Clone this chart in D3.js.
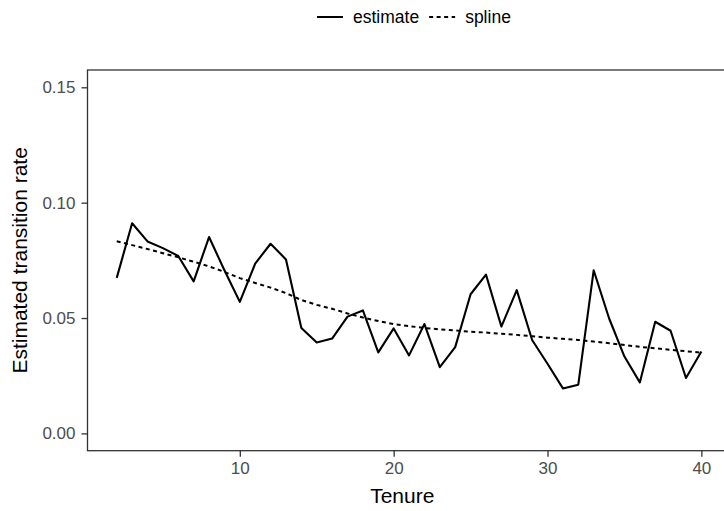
<!DOCTYPE html>
<html>
<head>
<meta charset="utf-8">
<script src="https://cdn.jsdelivr.net/npm/d3@7"></script>
<style>
  html, body { margin: 0; padding: 0; background: #fff; }
  svg { display: block; }
</style>
</head>
<body>
<div id="chart"></div>
<script>
// Tenure values and the two series
const tenure = d3.range(2, 41);
const estimate = [0.0674, 0.0911, 0.0832, 0.0803, 0.0769, 0.0659, 0.0851, 0.0707, 0.0570, 0.0736,
    0.0822, 0.0754, 0.0457, 0.0394, 0.0411, 0.0506, 0.0533, 0.0351, 0.0455, 0.0338,
    0.0474, 0.0287, 0.0374, 0.0603, 0.0688, 0.0463, 0.0621, 0.0405, 0.0302, 0.0195,
    0.0211, 0.0707, 0.0499, 0.0333, 0.0221, 0.0484, 0.0445, 0.0240, 0.0355];
const spline = [0.0833, 0.0816, 0.0799, 0.0781, 0.0763, 0.0744, 0.0724, 0.0700, 0.0673, 0.0652,
    0.0632, 0.0608, 0.0578, 0.0557, 0.0540, 0.0520, 0.0502, 0.0487, 0.0474, 0.0465,
    0.0457, 0.0451, 0.0446, 0.0441, 0.0437, 0.0432, 0.0427, 0.0421, 0.0415, 0.0410,
    0.0405, 0.0398, 0.0391, 0.0383, 0.0375, 0.0369, 0.0362, 0.0356, 0.0350];
const xTicks = [10, 20, 30, 40];
const yTicks = [0, 0.05, 0.10, 0.15];
const legendItems = [
    { label: "estimate", dash: null },
    { label: "spline", dash: "4,3.5" }
];

const width = 724, height = 511;
const font = "'Liberation Sans', Arial, Helvetica, sans-serif";
const panel = { left: 87.5, top: 70, right: 730.6, bottom: 450.7 };

const svg = d3.select("#chart").append("svg")
    .attr("width", width)
    .attr("height", height);

const x = d3.scaleLinear().domain([0.1, 41.9]).range([panel.left, panel.right]);
const y = d3.scaleLinear().domain([-0.0075, 0.1575]).range([panel.bottom, panel.top]);

svg.append("clipPath").attr("id", "clip")
    .append("rect")
    .attr("x", panel.left).attr("y", panel.top)
    .attr("width", panel.right - panel.left).attr("height", panel.bottom - panel.top);

const line = d3.line().x((d, i) => x(tenure[i])).y(d => y(d));

const plot = svg.append("g").attr("clip-path", "url(#clip)");

plot.append("path")
    .datum(spline)
    .attr("d", line)
    .attr("fill", "none")
    .attr("stroke", "#000")
    .attr("stroke-width", 2)
    .attr("stroke-dasharray", "4,3.5");

plot.append("path")
    .datum(estimate)
    .attr("d", line)
    .attr("fill", "none")
    .attr("stroke", "#000")
    .attr("stroke-width", 2.1)
    .attr("stroke-linejoin", "round");

// Panel border
svg.append("rect")
    .attr("x", panel.left).attr("y", panel.top)
    .attr("width", panel.right - panel.left).attr("height", panel.bottom - panel.top)
    .attr("fill", "none")
    .attr("stroke", "#333")
    .attr("stroke-width", 1.3);

// Axes
const xAxis = svg.append("g")
    .attr("transform", `translate(0,${panel.bottom})`)
    .call(d3.axisBottom(x).tickValues(xTicks).tickSize(6).tickPadding(5).tickFormat(d3.format("d")));
const yAxis = svg.append("g")
    .attr("transform", `translate(${panel.left},0)`)
    .call(d3.axisLeft(y).tickValues(yTicks).tickSize(6).tickPadding(6).tickFormat(d3.format(".2f")));

[xAxis, yAxis].forEach(ax => {
    ax.select(".domain").remove();
    ax.selectAll(".tick line").attr("stroke", "#333").attr("stroke-width", 1.3);
    ax.selectAll(".tick text")
        .attr("fill", "#4d4d4d")
        .attr("font-size", "17px")
        .attr("font-family", font);
});

// Axis titles
svg.append("text")
    .attr("x", (panel.left + 717) / 2)
    .attr("y", 503)
    .attr("text-anchor", "middle")
    .attr("font-size", "21px")
    .attr("font-family", font)
    .text("Tenure");

svg.append("text")
    .attr("transform", `translate(27,${(panel.top + panel.bottom) / 2}) rotate(-90)`)
    .attr("text-anchor", "middle")
    .attr("font-size", "21px")
    .attr("font-family", font)
    .text("Estimated transition rate");

// Legend
const legend = svg.append("g").attr("transform", "translate(317,0)");
let lx = 0;
legendItems.forEach(item => {
    legend.append("line")
        .attr("x1", lx).attr("x2", lx + 26)
        .attr("y1", 17).attr("y2", 17)
        .attr("stroke", "#000")
        .attr("stroke-width", 2)
        .attr("stroke-dasharray", item.dash);
    const t = legend.append("text")
        .attr("x", lx + 36)
        .attr("y", 23)
        .attr("font-size", "17.5px")
        .attr("font-family", font)
        .text(item.label);
    lx += 36 + t.node().getComputedTextLength() + 10;
});
</script>
</body>
</html>
